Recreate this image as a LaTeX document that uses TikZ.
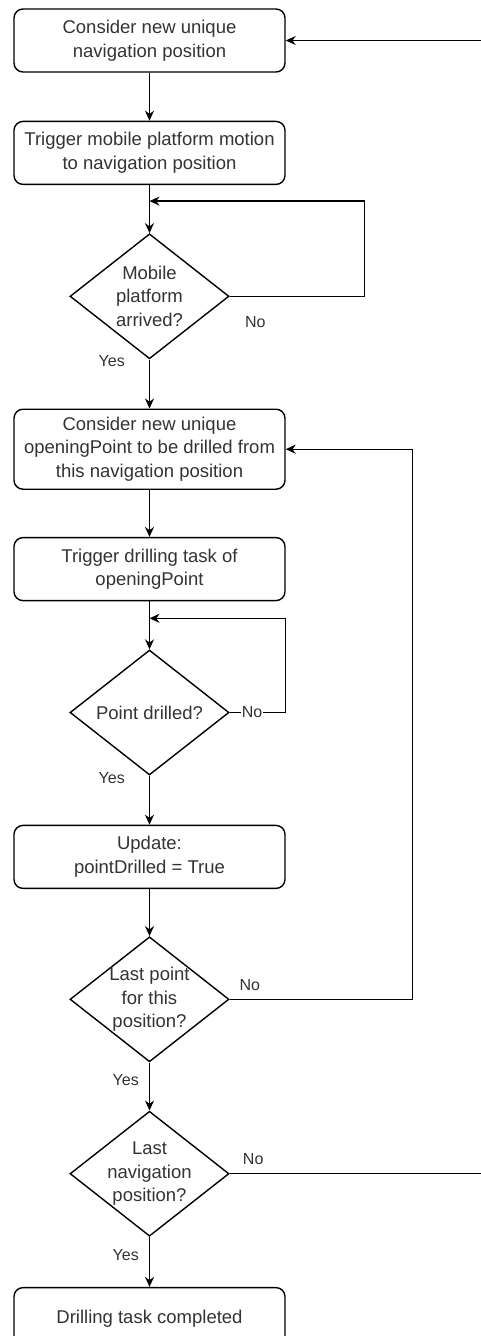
\documentclass[tikz,border=0pt]{standalone}
\usepackage{fontspec}
\setmainfont{Liberation Sans}
\usepackage{tikz}
\usetikzlibrary{arrows.meta,shapes.geometric,positioning}
\tikzset{
    %Define standard arrow tip
    >={Stealth[length=10pt,width=9pt]},
    %Define style for process boxes
    stepbox/.style={
           rectangle,
           rounded corners=9pt,
           draw=black, line width=1.4pt,
           minimum width=271pt,
           minimum height=63pt,
           font=\fontsize{18.5}{23.5}\selectfont,
           text=black!80,
           align=center},
    %Define style for decisions
    decision/.style={
           diamond,
           aspect=1.27,
           draw=black, line width=1.4pt,
           minimum width=159pt,
           minimum height=125pt,
           inner sep=-8pt,
           font=\fontsize{18.5}{23.5}\selectfont,
           text=black!80,
           align=center},
    % Define style for yes/no labels
    answer/.style={
           font=\fontsize{16}{19}\selectfont,
           text=black!80,
           inner sep=0pt}
}
\begin{document}
\begin{tikzpicture}[->,node distance=48pt,line width=1.4pt]
\useasboundingbox (0,0) rectangle (481pt,-1336pt);
\clip (0,0) rectangle (481pt,-1336pt);
\node[stepbox] (consider) at (149.5pt,-40.5pt) {Consider new unique\\navigation position};
\node[stepbox, below=of consider] (trigger) {Trigger mobile platform motion\\to navigation position};
\node[decision, below=of trigger] (arrived) {Mobile\\platform\\arrived?};
\node[stepbox, minimum height=80pt, below=49pt of arrived] (opening) {Consider new unique\\openingPoint to be drilled from\\this navigation position};
\node[stepbox, below=47pt of opening] (drill) {Trigger drilling task of\\openingPoint};
\node[decision, below=of drill] (drilled) {Point drilled?};
\node[stepbox, below=49pt of drilled] (update) {Update:\\pointDrilled = True};
\node[decision, below=47pt of update] (lastpoint) {Last point\\for this\\position?};
\node[decision, below=of lastpoint] (lastnav) {Last\\navigation\\position?};
\node[stepbox, below=50pt of lastnav] (done) {Drilling task completed};
% loop points
\coordinate[below=16pt of trigger.south] (arrivedin);
\coordinate[right=135pt of arrived.east] (arrivedloop);
\coordinate[below=17pt of drill.south] (drilledin);
\coordinate[right=183pt of lastpoint.east] (pointloop);
\coordinate[right=261pt of lastnav.east] (navloop);
% main flow
\draw (consider) -- (trigger);
\draw (trigger) -- (arrived);
\draw (arrived) -- node[answer, pos=0.04, left=24pt]{Yes} (opening);
\draw (opening) -- (drill);
\draw (drill) -- (drilled);
\draw (drilled) -- node[answer, pos=0.04, left=24pt]{Yes} (update);
\draw (update) -- (lastpoint);
\draw (lastpoint) -- node[answer, pos=0.375, left=10pt]{Yes} (lastnav);
\draw (lastnav) -- node[answer, pos=0.36, left=10pt]{Yes} (done);
% feedback loops
\draw (arrived.east) -- node[answer, pos=0.19, below=19pt]{No} (arrivedloop) |- (arrivedin);
\draw (drilled.east) -- node[answer, pos=0.4, fill=white, inner sep=1pt]{No} (drilled.east -| drill.east) |- (drilledin);
\draw (lastpoint.east) -- node[answer, pos=0.11, above=8pt]{No} (pointloop) |- (opening.east);
\draw (lastnav.east) -- node[answer, pos=0.09, above=8pt]{No} (navloop) |- (consider.east);
\end{tikzpicture}
\end{document}
